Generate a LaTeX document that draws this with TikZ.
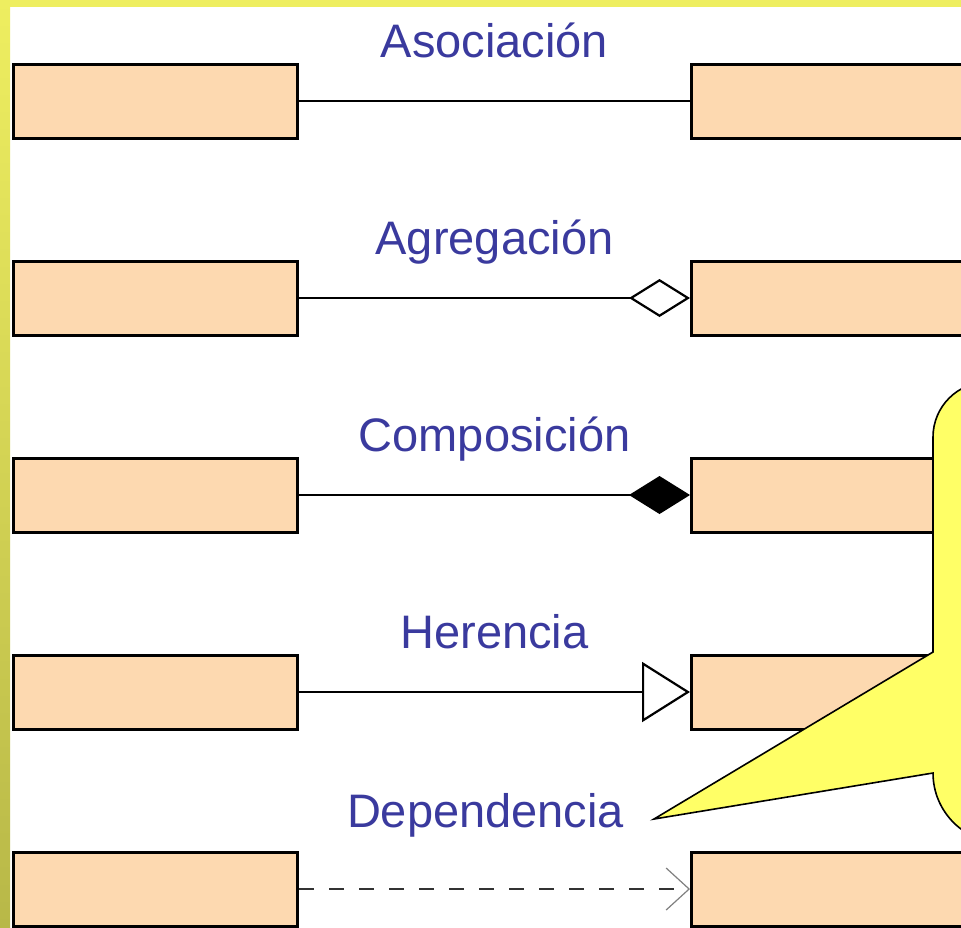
\documentclass[tikz,border=0pt]{standalone}
\usepackage{fontspec}
\setmainfont{Liberation Sans}
\usepackage{tikz}
\usetikzlibrary{arrows.meta, positioning}
\definecolor{peach}{RGB}{253,217,176}
\definecolor{labelblue}{RGB}{58,58,158}
\definecolor{noteyellow}{RGB}{255,255,102}
\definecolor{frameyellow}{RGB}{238,238,96}
\definecolor{frameolive}{RGB}{184,184,72}

\begin{document}
\begin{tikzpicture}[x=0.5pt, y=-0.5pt, node distance=98.5pt,
    clase/.style={draw, line width=1.5pt, fill=peach, minimum width=142pt, minimum height=37pt, inner sep=0pt},
    rel/.style={line width=0.8pt},
    etiq/.style={midway, anchor=base, yshift=22pt, text=labelblue, font=\fontsize{23.5}{28}\selectfont}]
        % frame
        \useasboundingbox (0,0) rectangle (961,927);
        \fill[white] (0,0) rectangle (961,927);
        \shade[top color=frameyellow, bottom color=frameolive] (0,0) rectangle (10,927);
        \fill[frameyellow] (0,0) rectangle (961,7);

        \node[clase] (asL) at (155.5,101) {};
        \node[clase] (agL) [below of=asL] {};
        \node[clase] (coL) [below of=agL] {};
        \node[clase] (heL) [below of=coL] {};
        \node[clase] (deL) [below of=heL] {};

        \node[clase] (asR) [node distance=339pt, right of=asL] {};
        \node[clase] (agR) [node distance=339pt, right of=agL] {};
        \node[clase] (coR) [node distance=339pt, right of=coL] {};
        \node[clase] (heR) [node distance=339pt, right of=heL] {};
        \node[clase] (deR) [node distance=339pt, right of=deL] {};

        \draw[rel] (asL) -- (asR) node[etiq] {Asociación};
        \draw[rel, -{Diamond[open, length=30.5pt, width=19pt, line width=1.1pt]}] (agL) -- (agR) node[etiq] {Agregación};
        \draw[rel, -{Diamond[length=30.5pt, width=19pt]}] (coL) -- (coR) node[etiq] {Composición};
        \draw[rel, -{Triangle[open, length=24pt, width=30pt, line width=1.1pt]}] (heL) -- (heR) node[etiq] {Herencia};
        \draw[rel, black!80, dash pattern=on 7.5pt off 7.5pt, -{Straight Barb[gray, length=11.5pt, width=21pt, line width=0.6pt]}] (deL) -- (deR) node[etiq, yshift=9pt, xshift=-4.5pt] {Dependencia};

        % callout
        \draw[line width=0.8pt, fill=noteyellow] (1020,382) -- (988,382) arc[start angle=-90, end angle=-180, radius=55]
            -- (933,652) -- (654,819) -- (933,773) arc[start angle=180, end angle=90, radius=70] -- (1020,843) -- cycle;
    \end{tikzpicture}
\end{document}
